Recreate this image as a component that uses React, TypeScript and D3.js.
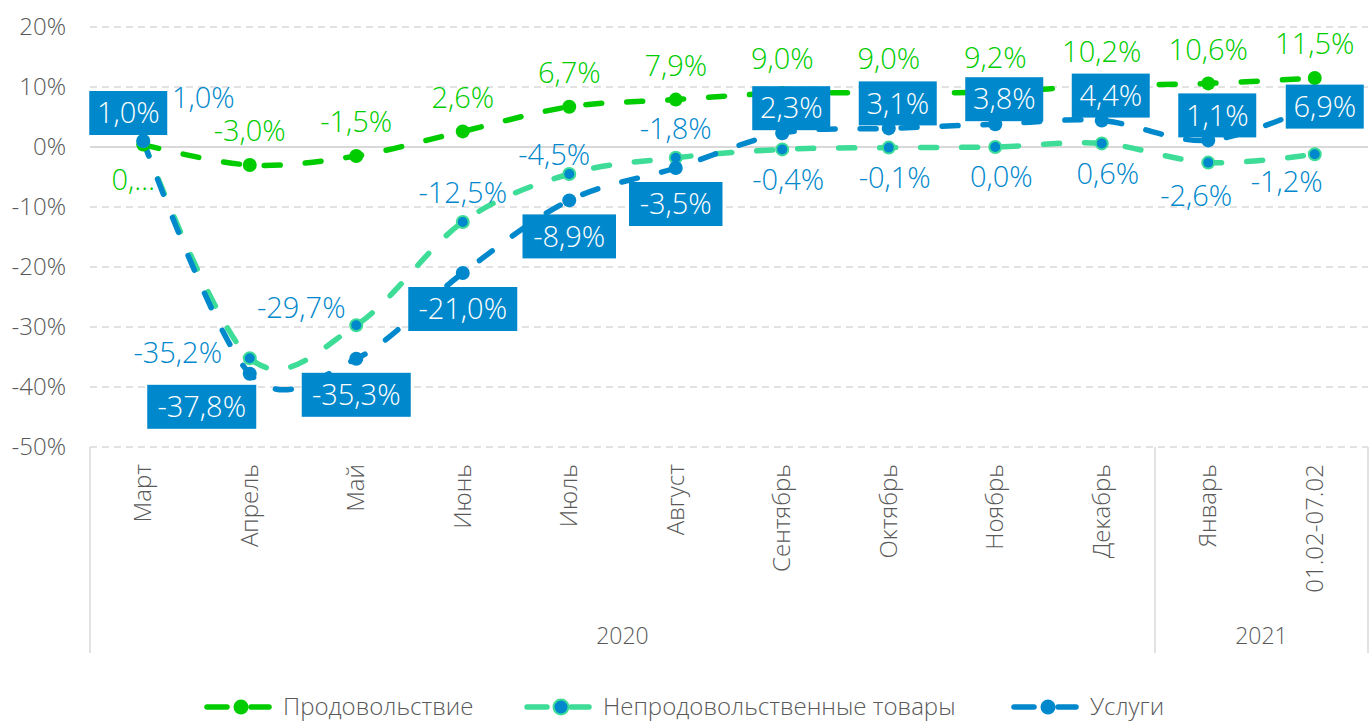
import React from 'react';
import * as d3 from 'd3';

const categories = ["Март", "Апрель", "Май", "Июнь", "Июль", "Август", "Сентябрь", "Октябрь", "Ноябрь", "Декабрь", "Январь", "01.02-07.02"];
const yearGroups = ["2020", "2021"];
const yearStart = [0, 10];
const yTicks = [-50, -40, -30, -20, -10, 0, 10, 20];

const food = [0.4, -3.0, -1.5, 2.6, 6.7, 7.9, 9.0, 9.0, 9.2, 10.2, 10.6, 11.5];
const nonFood = [1.0, -35.2, -29.7, -12.5, -4.5, -1.8, -0.4, -0.1, 0.0, 0.6, -2.6, -1.2];
const services = [1.0, -37.8, -35.3, -21.0, -8.9, -3.5, 2.3, 3.1, 3.8, 4.4, 1.1, 6.9];

// where each data label sits relative to its point
const foodPlace = ["below", "above", "above", "above", "above", "above", "above", "above", "above", "above", "above", "above"];
const nonFoodPlace = ["aboveRight", "left", "leftAbove", "above", "aboveLeft", "above", "below", "below", "below", "below", "belowNear", "belowLeft"];
const servicesPlace = ["aboveLeft", "belowLeft", "below", "below", "below", "below", "above", "above", "above", "above", "above", "center"];

const GREEN = "#00cc00";
const MINT = "#3ddc97";
const BLUE = "#0088cc";
const GREY_TEXT = "#595959";
const GRID = "#d9d9d9";
const FONT = "'Open Sans', 'Noto Sans', sans-serif";

const W = 1369, H = 723;
const left = 90, right = 1368, top = 27, bottom = 447;

const offsets: Record<string, Record<string, [number, number]>> = {
  food: { above: [0, -34], below: [-10, 35] },
  nonFood: {
    above: [0, -29], below: [6, 30], left: [-72, -5], leftAbove: [-55, -17], aboveLeft: [-15, -19],
    aboveRight: [60, -43], belowLeft: [-28, 28], belowNear: [-12, 33],
  },
  services: { above: [9, -25], below: [0, 36], aboveLeft: [-15, -28], belowLeft: [-48, 33], center: [10, 1] },
};

const fmt = (v: number) => d3.format(".1f")(v).replace(".", ",").replace("−", "-") + "%";

export default function App() {
  const x = d3.scalePoint<string>().domain(categories).range([left, right]).padding(0.5);
  const step = x.step();
  const y = d3.scaleLinear().domain([-50, 20]).range([bottom, top]);
  const line = d3.line<number>()
    .x((_, i) => x(categories[i])!)
    .y(d => y(d))
    .curve(d3.curveCardinal.tension(0));

  const dash = "16 25";
  const labelSize = 29;

  const boxWidth = (t: string) => t.length * 15.5 + 16;

  const series = [
    { key: "food", values: food, color: GREEN },
    { key: "nonFood", values: nonFood, color: MINT },
    { key: "services", values: services, color: BLUE },
  ];

  const sepX = yearStart.map(i => left + i * step).concat([right]);

  const legendY = 707;
  const legend = [
    { name: "Продовольствие", x0: 205, line: GREEN, fill: GREEN, stroke: "none" },
    { name: "Непродовольственные товары", x0: 525, line: MINT, fill: BLUE, stroke: MINT },
    { name: "Услуги", x0: 1012, line: BLUE, fill: BLUE, stroke: "none" },
  ];

  return (
    <svg width={W} height={H} style={{ position: "absolute", left: 0, top: 0, background: "#fff" }} fontFamily={FONT}>
      {/* grid */}
      {yTicks.map(t => (
        <g key={t}>
          <line x1={left} x2={right} y1={y(t)} y2={y(t)} stroke={GRID} strokeWidth={t === 0 ? 2 : 1.5}
            strokeDasharray={t === 0 ? undefined : "7 5"} />
          <text x={66} y={y(t)} dy="0.35em" textAnchor="end" fontSize={24} fill={GREY_TEXT} fontWeight={300}>{t}%</text>
        </g>
      ))}

      {/* category axis */}
      {sepX.map((sx, i) => (
        <line key={i} x1={sx} x2={sx} y1={bottom} y2={653} stroke={GRID} strokeWidth={1.5} />
      ))}
      {categories.map(c => (
        <text key={c} transform={`translate(${x(c)! + 8},${bottom + 17}) rotate(-90)`} textAnchor="end"
          fontSize={24} fill={GREY_TEXT} fontWeight={300}>{c}</text>
      ))}
      {yearGroups.map((g, i) => (
        <text key={g} x={(sepX[i] + sepX[i + 1]) / 2} y={644} textAnchor="middle" fontSize={23} fill={GREY_TEXT} fontWeight={300}>{g}</text>
      ))}

      {/* lines */}
      {series.map(s => (
        <path key={s.key} d={line(s.values)!} fill="none" stroke={s.color} strokeWidth={5.5}
          strokeDasharray={dash} strokeLinecap="round" />
      ))}

      {/* markers */}
      {food.map((v, i) => <circle key={"f" + i} cx={x(categories[i])} cy={y(v)} r={7} fill={GREEN} />)}
      {nonFood.map((v, i) => <circle key={"n" + i} cx={x(categories[i])} cy={y(v)} r={6} fill={BLUE} stroke={MINT} strokeWidth={2} />)}
      {services.map((v, i) => <circle key={"s" + i} cx={x(categories[i])} cy={y(v)} r={7} fill={BLUE} />)}

      {/* labels */}
      {food.map((v, i) => {
        const [dx, dy] = offsets.food[foodPlace[i]];
        const t = i === 0 ? "0,…" : fmt(v); // first label is clipped in the original
        return <text key={"fl" + i} x={x(categories[i])! + dx} y={y(v) + dy} dy="0.35em" textAnchor="middle"
          fontSize={labelSize} fill={GREEN} fontWeight={300}>{t}</text>;
      })}
      {nonFood.map((v, i) => {
        const [dx, dy] = offsets.nonFood[nonFoodPlace[i]];
        return <text key={"nl" + i} x={x(categories[i])! + dx} y={y(v) + dy} dy="0.35em" textAnchor="middle"
          fontSize={labelSize} fill={BLUE} fontWeight={300}>{fmt(v)}</text>;
      })}
      {services.map((v, i) => {
        const [dx, dy] = offsets.services[servicesPlace[i]];
        const t = fmt(v);
        const cx = x(categories[i])! + dx, cy = y(v) + dy;
        const bw = boxWidth(t);
        return (
          <g key={"sl" + i}>
            <rect x={cx - bw / 2} y={cy - 22} width={bw} height={44} fill={BLUE} />
            <text x={cx} y={cy} dy="0.35em" textAnchor="middle" fontSize={labelSize} fill="#fff" fontWeight={300}>{t}</text>
          </g>
        );
      })}

      {/* legend */}
      {legend.map(l => (
        <g key={l.name}>
          <line x1={l.x0 + 2} x2={l.x0 + 22} y1={legendY} y2={legendY} stroke={l.line} strokeWidth={5.5} strokeLinecap="round" />
          <line x1={l.x0 + 46} x2={l.x0 + 64} y1={legendY} y2={legendY} stroke={l.line} strokeWidth={5.5} strokeLinecap="round" />
          <circle cx={l.x0 + 36} cy={legendY} r={7.5} fill={l.fill} stroke={l.stroke} strokeWidth={2} />
          <text x={l.x0 + 78} y={legendY} dy="0.33em" fontSize={24} fill={GREY_TEXT} fontWeight={300}>{l.name}</text>
        </g>
      ))}
    </svg>
  );
}
